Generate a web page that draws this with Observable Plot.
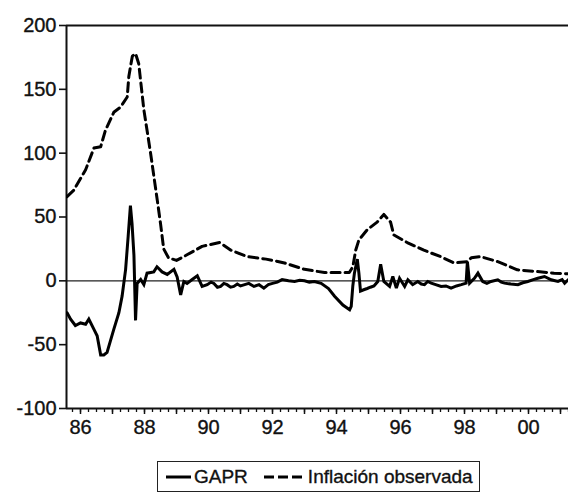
<!DOCTYPE html>
<html>
<head>
<meta charset="utf-8">
<script src="https://cdn.jsdelivr.net/npm/d3@7"></script>
<script src="https://cdn.jsdelivr.net/npm/@observablehq/plot@0.6"></script>
<style>
  html, body { margin: 0; padding: 0; background: #fff; }
  #wrap { position: relative; width: 568px; height: 496px; font-family: "Liberation Sans", Arial, sans-serif; }
  #chart svg text { stroke: #111; stroke-width: 0.35px; }
  #legend { position: absolute; left: 157px; top: 461px; width: 321px; height: 29px; border: 1.5px solid #222;
            display: flex; align-items: center; font-size: 19px; color: #111; white-space: nowrap;
            -webkit-text-stroke: 0.35px #111; }
  #legend svg { display: block; }
</style>
</head>
<body>
<div id="wrap">
  <div id="chart"></div>
  <div id="legend"></div>
</div>
<script>
// GAPR (solid) — [decimal year], [value]
const gaprYears = [1985.58,1985.69,1985.84,1986.0,1986.16,1986.26,1986.42,1986.52,1986.63,1986.73,1986.83,1987.04,1987.2,1987.3,1987.41,1987.49,1987.56,1987.61,1987.67,1987.72,1987.77,1987.88,1987.98,1988.08,1988.29,1988.39,1988.55,1988.71,1988.92,1989.02,1989.13,1989.23,1989.33,1989.49,1989.65,1989.8,1989.96,1990.08,1990.17,1990.28,1990.38,1990.48,1990.58,1990.69,1990.79,1990.9,1991.0,1991.13,1991.26,1991.42,1991.58,1991.73,1991.87,1992.0,1992.15,1992.3,1992.5,1992.69,1992.85,1993.0,1993.15,1993.31,1993.52,1993.75,1993.94,1994.2,1994.41,1994.46,1994.51,1994.56,1994.65,1994.7,1994.75,1994.85,1994.96,1995.06,1995.17,1995.29,1995.38,1995.48,1995.66,1995.76,1995.87,1995.97,1996.13,1996.23,1996.38,1996.54,1996.65,1996.75,1996.85,1996.96,1997.1,1997.27,1997.42,1997.58,1997.75,1997.9,1998.05,1998.09,1998.16,1998.31,1998.42,1998.57,1998.7,1998.83,1999.04,1999.15,1999.25,1999.45,1999.67,1999.82,1999.98,2000.15,2000.29,2000.5,2000.71,2000.92,2001.05,2001.13,2001.25];
const gaprValues = [-25,-30,-35,-33,-34,-30,-38,-43,-58,-58,-56,-38,-25,-12,9,35,59,45,20,-31,-2,1,-3,6,7,11,7,5,9,3,-11,-0.5,-2,1,4,-4.4,-3,-1,-2,-5,-4.4,-2,-3,-5,-4.4,-2.5,-4,-3,-2,-4.4,-3,-5.7,-3,-2,-1,1,0,-0.5,0.5,0,-1,-0.5,-2,-6,-12,-19,-22.7,-20,-4,6,17,6,-8,-7,-6,-5,-4,-0.5,13,-0.5,-4.4,3.4,-5.7,2,-4.4,0.8,-3,-0.5,-2.5,-3,-0.5,-1.8,-3,-4.4,-4,-5.7,-4,-3,-1.8,15,-1.8,2,6,-0.5,-2,-0.5,0.8,-1,-1.8,-2.5,-3,-1.5,-0.5,1,2,3.4,0.8,-0.5,1,-1.8,1];

// Inflación observada (dashed)
const inflYears = [1985.58,1985.79,1986.16,1986.42,1986.63,1986.78,1987.04,1987.25,1987.46,1987.51,1987.62,1987.72,1987.82,1987.98,1988.19,1988.4,1988.5,1988.6,1988.75,1989.0,1989.3,1989.8,1990.35,1990.7,1991.2,1991.8,1992.2,1992.375,1993.0,1993.625,1994.4,1994.51,1994.6,1994.7,1994.96,1995.27,1995.48,1995.69,1995.79,1996.21,1996.73,1997.25,1997.67,1998.08,1998.21,1998.5,1999.04,1999.65,2000.27,2000.8,2001.25];
const inflValues = [66,71,87,104,105,118,132,136,144,160,176,178,170,134,100,63,45,25,18,16,20,27,30,24,19,17,15,14,9,6.5,6.5,11,24,32,40,46,52,46,36,30,24,19,14,15,18,19,15,8.6,7.3,6,5.5];

const yTicks = [200, 150, 100, 50, 0, -50, -100];
const xLabelYears = [1986, 1988, 1990, 1992, 1994, 1996, 1998, 2000];
const seriesNames = ["GAPR", "Inflación observada"];

const gapr = gaprYears.map((t, i) => ({t, v: gaprValues[i]}));
const infl = inflYears.map((t, i) => ({t, v: inflValues[i]}));

const xMin = 1986 - 14 / 32, xMax = 2001.25;
const quarterTicks = d3.range(Math.ceil(xMin * 4), Math.floor(xMax * 4) + 1).map(q => q / 4);
const yearTicks = d3.range(1986, 2002);
const fmtYear = d => xLabelYears.includes(d) ? String(d % 100).padStart(2, "0") : "";

const chart = Plot.plot({
  width: 568,
  height: 448,
  marginTop: 25,
  marginBottom: 40,
  marginLeft: 66,
  marginRight: 0,
  style: {fontFamily: "'Liberation Sans', Arial, sans-serif", fontSize: "20px", color: "#111", background: "#fff"},
  x: {domain: [xMin, xMax]},
  y: {domain: [-100, 200]},
  marks: [
    Plot.axisY(yTicks, {tickSize: 7, tickPadding: 3, strokeWidth: 1.6, fontSize: 20, label: null, tickFormat: d => String(d)}),
    Plot.axisX(quarterTicks, {tickSize: 4, text: null, strokeWidth: 1.3, label: null}),
    Plot.axisX(yearTicks, {tickSize: 6, tickPadding: 5, strokeWidth: 1.5, tickFormat: fmtYear, fontSize: 20, label: null}),
    Plot.ruleY([0], {stroke: "#222", strokeWidth: 1.3}),
    Plot.ruleY([200], {stroke: "#111", strokeWidth: 2}),
    Plot.ruleY([-100], {stroke: "#111", strokeWidth: 2}),
    Plot.ruleX([xMin], {stroke: "#111", strokeWidth: 2}),
    Plot.line(infl, {x: "t", y: "v", stroke: "#000", strokeWidth: 3, strokeDasharray: "9,5", clip: true}),
    Plot.line(gapr, {x: "t", y: "v", stroke: "#000", strokeWidth: 3, strokeLinejoin: "miter", strokeMiterlimit: 3, clip: true})
  ]
});
document.getElementById("chart").appendChild(chart);

const legend = document.getElementById("legend");
function swatch(dash, w, gap) {
  const s = d3.create("svg").attr("width", w).attr("height", 10).style("margin", `0 ${gap}px 0 0`);
  s.append("line").attr("x1", 0).attr("x2", w).attr("y1", 5).attr("y2", 5)
    .attr("stroke", "#000").attr("stroke-width", 3).attr("stroke-dasharray", dash);
  return s.node();
}
const item1 = document.createElement("span");
item1.style.cssText = "display:flex;align-items:center;margin-left:8px;";
item1.appendChild(swatch(null, 25, 3));
item1.appendChild(document.createTextNode(seriesNames[0]));
const item2 = document.createElement("span");
item2.style.cssText = "display:flex;align-items:center;margin-left:16px;";
item2.appendChild(swatch("10,4", 38, 6));
item2.appendChild(document.createTextNode(seriesNames[1]));
legend.appendChild(item1);
legend.appendChild(item2);
</script>
</body>
</html>
